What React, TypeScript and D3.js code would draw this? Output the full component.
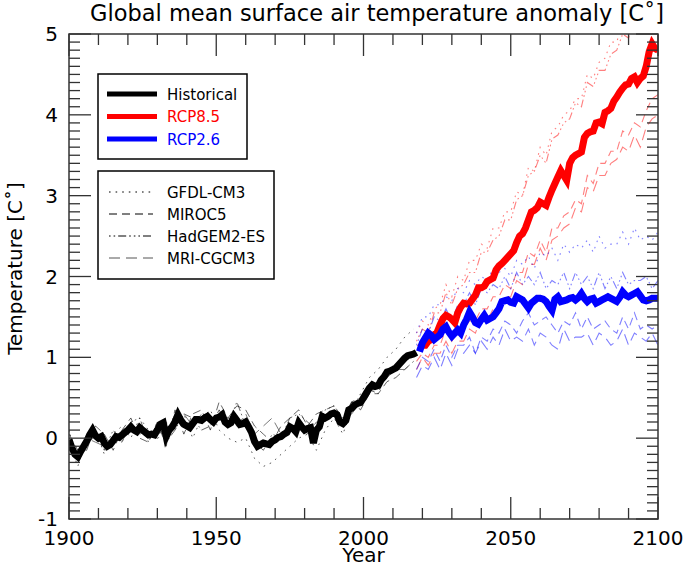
import React from "react";
import * as d3 from "d3";

// ---------- DATA ----------
const histStart = 1900;
const historical = [
  -0.02, -0.12, -0.2, -0.23, -0.16, -0.1, -0.04, 0.04, 0.1, 0.03,
  0.0, 0.02, -0.06, -0.1, -0.08, -0.03, 0.02, 0.01, 0.04, 0.07,
  0.1, 0.14, 0.1, 0.08, 0.13, 0.1, 0.07, 0.04, 0.05, 0.04,
  0.1, 0.17, 0.19, 0.02, 0.1, 0.14, 0.2, 0.29, 0.22, 0.17,
  0.15, 0.13, 0.18, 0.23, 0.23, 0.22, 0.25, 0.27, 0.23, 0.2,
  0.25, 0.26, 0.29, 0.2, 0.17, 0.19, 0.27, 0.22, 0.17, 0.18,
  0.2, 0.14, 0.07, -0.04, -0.1, -0.08, -0.06, -0.07, -0.08, -0.04,
  -0.02, 0.01, 0.02, 0.05, 0.07, 0.14, 0.12, 0.08, 0.19, 0.14,
  0.1, 0.12, 0.13, -0.06, 0.1, 0.14, 0.27, 0.25, 0.27, 0.3,
  0.31, 0.29, 0.2, 0.18, 0.22, 0.35, 0.37, 0.41, 0.43, 0.44,
  0.5, 0.56, 0.62, 0.66, 0.64, 0.65, 0.72, 0.76, 0.82, 0.83,
  0.85, 0.87, 0.91, 0.95, 0.99, 1.02, 1.03, 1.04, 1.06,
];

const futStart = 2019;
const rcp85 = [
  1.18, 1.15, 1.15, 1.2, 1.22, 1.28, 1.31, 1.4, 1.48, 1.52,
  1.5, 1.47, 1.43, 1.55, 1.62, 1.67, 1.66, 1.67, 1.72, 1.77,
  1.86, 1.86, 1.88, 1.94, 1.96, 1.98, 2.08, 2.13, 2.16, 2.2,
  2.24, 2.28, 2.32, 2.42, 2.5, 2.53, 2.6, 2.7, 2.8, 2.82,
  2.85, 2.92, 2.9, 2.88, 2.98, 3.07, 3.15, 3.23, 3.31, 3.25,
  3.19, 3.4, 3.47, 3.5, 3.52, 3.54, 3.72, 3.77, 3.79, 3.8,
  3.9, 3.91, 3.89, 4.03, 4.05, 4.08, 4.17, 4.22, 4.28, 4.33,
  4.37, 4.38, 4.45, 4.47, 4.4, 4.45, 4.48, 4.6, 4.78, 4.88,
  4.82, 4.8,
];
const rcp26 = [
  1.07, 1.18, 1.24, 1.3, 1.27, 1.22, 1.25, 1.28, 1.35, 1.38,
  1.31, 1.26, 1.3, 1.34, 1.3, 1.4, 1.47, 1.56, 1.5, 1.43,
  1.41, 1.47, 1.52, 1.46, 1.48, 1.5, 1.55, 1.6, 1.69, 1.7,
  1.71, 1.68, 1.67, 1.75, 1.73, 1.71, 1.66, 1.61, 1.67, 1.7,
  1.73, 1.73, 1.72, 1.69, 1.63, 1.58, 1.72, 1.75, 1.69, 1.7,
  1.71, 1.73, 1.74, 1.71, 1.74, 1.79, 1.73, 1.69, 1.72, 1.73,
  1.67, 1.69, 1.71, 1.73, 1.75, 1.73, 1.71, 1.69, 1.74, 1.81,
  1.77, 1.75, 1.77, 1.79, 1.81, 1.76, 1.71, 1.7, 1.71, 1.73,
  1.73, 1.73,
];

// individual models, historical (every 3 years from 1900)
const modelHistStart = 1900;
const modelHistStep = 3;
const gfdlHist = [-0.05, -0.35, 0.05, 0.1, -0.2, 0.05, 0.15, 0.0, 0.25, 0.1, 0.0, 0.2, 0.1, 0.3, 0.0, 0.25, 0.35, 0.1, 0.0, -0.05, 0.0, -0.25, -0.35, -0.3, -0.2, -0.1, 0.0, 0.05, -0.15, 0.1, 0.25, 0.05, 0.35, 0.55, 0.75, 0.85, 1.0, 1.1, 1.25, 1.35];
const mirocHist = [0.05, -0.15, -0.15, 0.15, 0.05, -0.15, 0.1, 0.25, 0.0, -0.05, 0.2, -0.1, 0.35, 0.05, 0.3, 0.35, 0.1, 0.45, 0.25, 0.4, 0.35, 0.15, 0.05, -0.05, 0.15, 0.25, 0.35, 0.15, 0.3, 0.35, 0.4, 0.15, 0.45, 0.35, 0.55, 0.55, 0.7, 0.75, 0.85, 0.95];
const hadgemHist = [0.1, -0.3, -0.1, 0.05, -0.15, 0.1, -0.05, 0.2, 0.25, -0.05, 0.2, -0.05, 0.1, 0.3, 0.25, 0.1, 0.15, 0.35, 0.15, 0.45, 0.15, -0.05, -0.15, 0.05, 0.0, 0.25, 0.3, 0.2, 0.1, 0.35, 0.4, 0.25, 0.45, 0.5, 0.6, 0.55, 0.85, 0.9, 1.0, 1.05];
const mriHist = [-0.15, -0.2, 0.0, -0.05, -0.1, 0.0, -0.05, 0.2, 0.05, 0.1, 0.0, 0.05, 0.3, 0.3, 0.15, 0.3, 0.25, 0.2, 0.25, 0.15, 0.3, 0.05, 0.15, 0.25, 0.05, 0.1, 0.25, 0.05, 0.2, 0.2, 0.35, 0.2, 0.3, 0.45, 0.55, 0.65, 0.75, 0.85, 0.85, 0.95];

// individual models, scenarios (every 2 years from 2018)
const modelFutStart = 2018;
const modelFutStep = 2;
const gfdl85 = [1.3, 1.45, 1.4, 1.6, 1.65, 1.9, 1.75, 2.0, 1.95, 2.2, 2.2, 2.4, 2.35, 2.6, 2.6, 2.8, 2.8, 3.05, 3.0, 3.35, 3.3, 3.6, 3.5, 3.8, 3.85, 4.0, 4.05, 4.2, 4.2, 4.5, 4.45, 4.65, 4.7, 4.9, 4.9, 5.15, 5.1, 5.35, 5.25, 5.5, 5.55, 5.7];
const hadgem85 = [1.2, 1.35, 1.3, 1.55, 1.55, 1.8, 1.65, 1.85, 1.9, 2.05, 2.05, 2.3, 2.3, 2.45, 2.5, 2.7, 2.7, 2.95, 3.0, 3.25, 3.3, 3.5, 3.4, 3.7, 3.75, 3.9, 3.95, 4.15, 4.1, 4.4, 4.35, 4.55, 4.55, 4.75, 4.8, 5.0, 4.95, 5.2, 5.05, 5.35, 5.45, 5.5];
const miroc85 = [0.95, 1.05, 1.0, 1.15, 1.15, 1.35, 1.2, 1.35, 1.35, 1.45, 1.45, 1.6, 1.6, 1.75, 1.75, 1.9, 1.85, 2.05, 2.05, 2.3, 2.25, 2.45, 2.3, 2.6, 2.6, 2.75, 2.8, 2.95, 2.9, 3.25, 3.15, 3.4, 3.4, 3.55, 3.55, 3.8, 3.75, 3.9, 3.85, 4.05, 4.2, 4.25];
const mri85 = [0.85, 1.0, 0.9, 1.05, 1.05, 1.2, 1.05, 1.2, 1.2, 1.35, 1.3, 1.5, 1.45, 1.6, 1.6, 1.75, 1.75, 1.95, 1.9, 2.15, 2.15, 2.35, 2.2, 2.45, 2.5, 2.6, 2.65, 2.85, 2.8, 3.1, 3.05, 3.25, 3.25, 3.4, 3.45, 3.6, 3.55, 3.75, 3.6, 3.85, 3.95, 4.0];
const gfdl26 = [1.3, 1.5, 1.5, 1.65, 1.65, 1.75, 1.7, 1.85, 1.8, 1.95, 1.9, 2.0, 1.95, 2.1, 2.05, 2.1, 2.0, 2.2, 2.15, 2.25, 2.1, 2.3, 2.25, 2.35, 2.2, 2.4, 2.3, 2.4, 2.35, 2.45, 2.3, 2.5, 2.35, 2.4, 2.4, 2.55, 2.4, 2.6, 2.45, 2.5, 2.45, 2.55];
const hadgem26 = [1.15, 1.35, 1.3, 1.5, 1.45, 1.6, 1.45, 1.65, 1.65, 1.8, 1.65, 1.85, 1.8, 1.9, 1.85, 2.0, 1.85, 2.05, 1.9, 2.0, 1.9, 2.05, 1.85, 1.95, 1.9, 2.05, 1.85, 2.05, 1.9, 2.0, 1.85, 2.05, 1.85, 2.0, 1.85, 2.05, 1.9, 1.95, 1.95, 2.0, 1.85, 1.95];
const miroc26 = [0.85, 1.0, 0.95, 1.1, 0.95, 1.15, 1.0, 1.15, 1.15, 1.25, 1.05, 1.25, 1.2, 1.35, 1.3, 1.45, 1.4, 1.3, 1.45, 1.55, 1.4, 1.45, 1.5, 1.4, 1.3, 1.45, 1.4, 1.55, 1.35, 1.5, 1.35, 1.4, 1.45, 1.35, 1.3, 1.5, 1.35, 1.55, 1.35, 1.4, 1.35, 1.4];
const mri26 = [0.75, 0.9, 0.85, 1.0, 0.85, 1.05, 0.9, 1.1, 1.05, 1.15, 1.05, 1.2, 1.1, 1.25, 1.15, 1.35, 1.2, 1.25, 1.2, 1.35, 1.15, 1.3, 1.25, 1.15, 1.1, 1.35, 1.2, 1.25, 1.25, 1.3, 1.15, 1.3, 1.25, 1.15, 1.2, 1.35, 1.15, 1.3, 1.25, 1.2, 1.3, 1.15];

const yTickLabels = [-1, 0, 1, 2, 3, 4, 5];
const xTickLabels = [1900, 1950, 2000, 2050, 2100];
const modelNames = ["GFDL-CM3", "MIROC5", "HadGEM2-ES", "MRI-CGCM3"];
const scenarioNames = ["Historical", "RCP8.5", "RCP2.6"];

// ---------- LAYOUT / STYLE ----------
const W = 685, H = 567;
const L = 69, R = 658, T = 34, B = 519;
const FONT = "DejaVu Sans, sans-serif";
const dashes = ["1.6,5", "8,5", "1.6,3,1.6,3,8,3,1.6,3", "11,6"];
const histModelColors = ["rgba(0,0,0,0.65)", "rgba(0,0,0,0.6)", "rgba(0,0,0,0.6)", "rgba(90,90,90,0.8)"];
const scenColors = ["#000000", "#ff0000", "#0000ff"];

export default function App() {
  const x = d3.scaleLinear().domain([1900, 2100]).range([L, R]);
  const y = d3.scaleLinear().domain([-1, 5]).range([B, T]);
  const line = d3.line<[number, number]>().x((d) => x(d[0])).y((d) => y(d[1]));

  const series = (arr: number[], start: number, step: number) =>
    arr.map((v, i) => [start + i * step, v] as [number, number]);

  const histModels = [gfdlHist, mirocHist, hadgemHist, mriHist];
  const m85 = [gfdl85, miroc85, hadgem85, mri85];
  const m26 = [gfdl26, miroc26, hadgem26, mri26];

  const xMinor = d3.range(1900, 2101, 10);
  const yMinor = d3.range(-10, 51, 1).map((v) => v / 10);

  return (
    <svg width={W} height={H} style={{ position: "absolute", left: 0, top: 0, background: "#fff" }}
      fontFamily={FONT}>
      <defs>
        <clipPath id="plotclip">
          <rect x={L} y={T} width={R - L} height={B - T} />
        </clipPath>
      </defs>
      <rect x={0} y={0} width={W} height={H} fill="#fff" />

      <g clipPath="url(#plotclip)" fill="none">
        {histModels.map((arr, i) => (
          <path key={"h" + i} d={line(series(arr, modelHistStart, modelHistStep)) || ""}
            stroke={histModelColors[i]} strokeWidth={1} strokeDasharray={dashes[i]} />
        ))}
        {m85.map((arr, i) => (
          <path key={"r" + i} d={line(series(arr, modelFutStart, modelFutStep)) || ""}
            stroke="rgba(255,0,0,0.5)" strokeWidth={1.1} strokeDasharray={dashes[i]} />
        ))}
        {m26.map((arr, i) => (
          <path key={"b" + i} d={line(series(arr, modelFutStart, modelFutStep)) || ""}
            stroke="rgba(0,0,255,0.5)" strokeWidth={1.1} strokeDasharray={dashes[i]} />
        ))}
        <path d={line(series(historical, histStart, 1)) || ""} stroke="#000" strokeWidth={7} />
        <path d={line(series(rcp85, futStart, 1)) || ""} stroke="#ff0000" strokeWidth={7} />
        <path d={line(series(rcp26, futStart, 1)) || ""} stroke="#0000ff" strokeWidth={7} />
      </g>

      {/* frame */}
      <rect x={L} y={T} width={R - L} height={B - T} fill="none" stroke="#333" strokeWidth={1.5} />

      {/* ticks */}
      <g stroke="#333" strokeWidth={1.3}>
        {xMinor.map((v) => {
          const len = v % 50 === 0 ? 22 : 11;
          return (
            <g key={"xt" + v}>
              <line x1={x(v)} x2={x(v)} y1={B} y2={B - len} />
              <line x1={x(v)} x2={x(v)} y1={T} y2={T + len} />
            </g>
          );
        })}
        {yMinor.map((v) => {
          const major = Math.abs(v - Math.round(v)) < 1e-6;
          const len = major ? 22 : 11;
          return (
            <g key={"yt" + v}>
              <line x1={L} x2={L + len} y1={y(v)} y2={y(v)} />
              <line x1={R} x2={R - len} y1={y(v)} y2={y(v)} />
            </g>
          );
        })}
      </g>

      {/* tick labels */}
      <g fontSize={20} fill="#000">
        {xTickLabels.map((v) => (
          <text key={"xl" + v} x={x(v)} y={545} textAnchor="middle">{v}</text>
        ))}
        {yTickLabels.map((v) => (
          <text key={"yl" + v} x={58} y={y(v) + 7} textAnchor="end">{v}</text>
        ))}
      </g>

      <text x={x(2000)} y={562} textAnchor="middle" fontSize={20}>Year</text>
      <text transform={`translate(22, ${(T + B) / 2 - 8}) rotate(-90)`} textAnchor="middle" fontSize={20}>
        Temperature [C˚]
      </text>
      <text x={377} y={21} textAnchor="middle" fontSize={22.5}>
        Global mean surface air temperature anomaly [C˚]
      </text>

      {/* legend 1 */}
      <rect x={98} y={74} width={149} height={85} fill="#fff" stroke="#000" strokeWidth={1.5} />
      {scenarioNames.map((n, i) => (
        <g key={n}>
          <line x1={107} x2={157} y1={94 + i * 22.5} y2={94 + i * 22.5} stroke={scenColors[i]} strokeWidth={5} />
          <text x={167} y={94 + i * 22.5 + 5.5} fontSize={15} fill={scenColors[i]}>{n}</text>
        </g>
      ))}

      {/* legend 2 */}
      <rect x={98} y={171} width={176} height={108} fill="#fff" stroke="#000" strokeWidth={1.5} />
      {modelNames.map((n, i) => (
        <g key={n}>
          <line x1={109} x2={153} y1={192 + i * 22} y2={192 + i * 22}
            stroke={i === 3 ? "#555" : "#000"} strokeWidth={1} strokeDasharray={dashes[i]} />
          <text x={167} y={192 + i * 22 + 5.5} fontSize={15} fill="#000">{n}</text>
        </g>
      ))}
    </svg>
  );
}
